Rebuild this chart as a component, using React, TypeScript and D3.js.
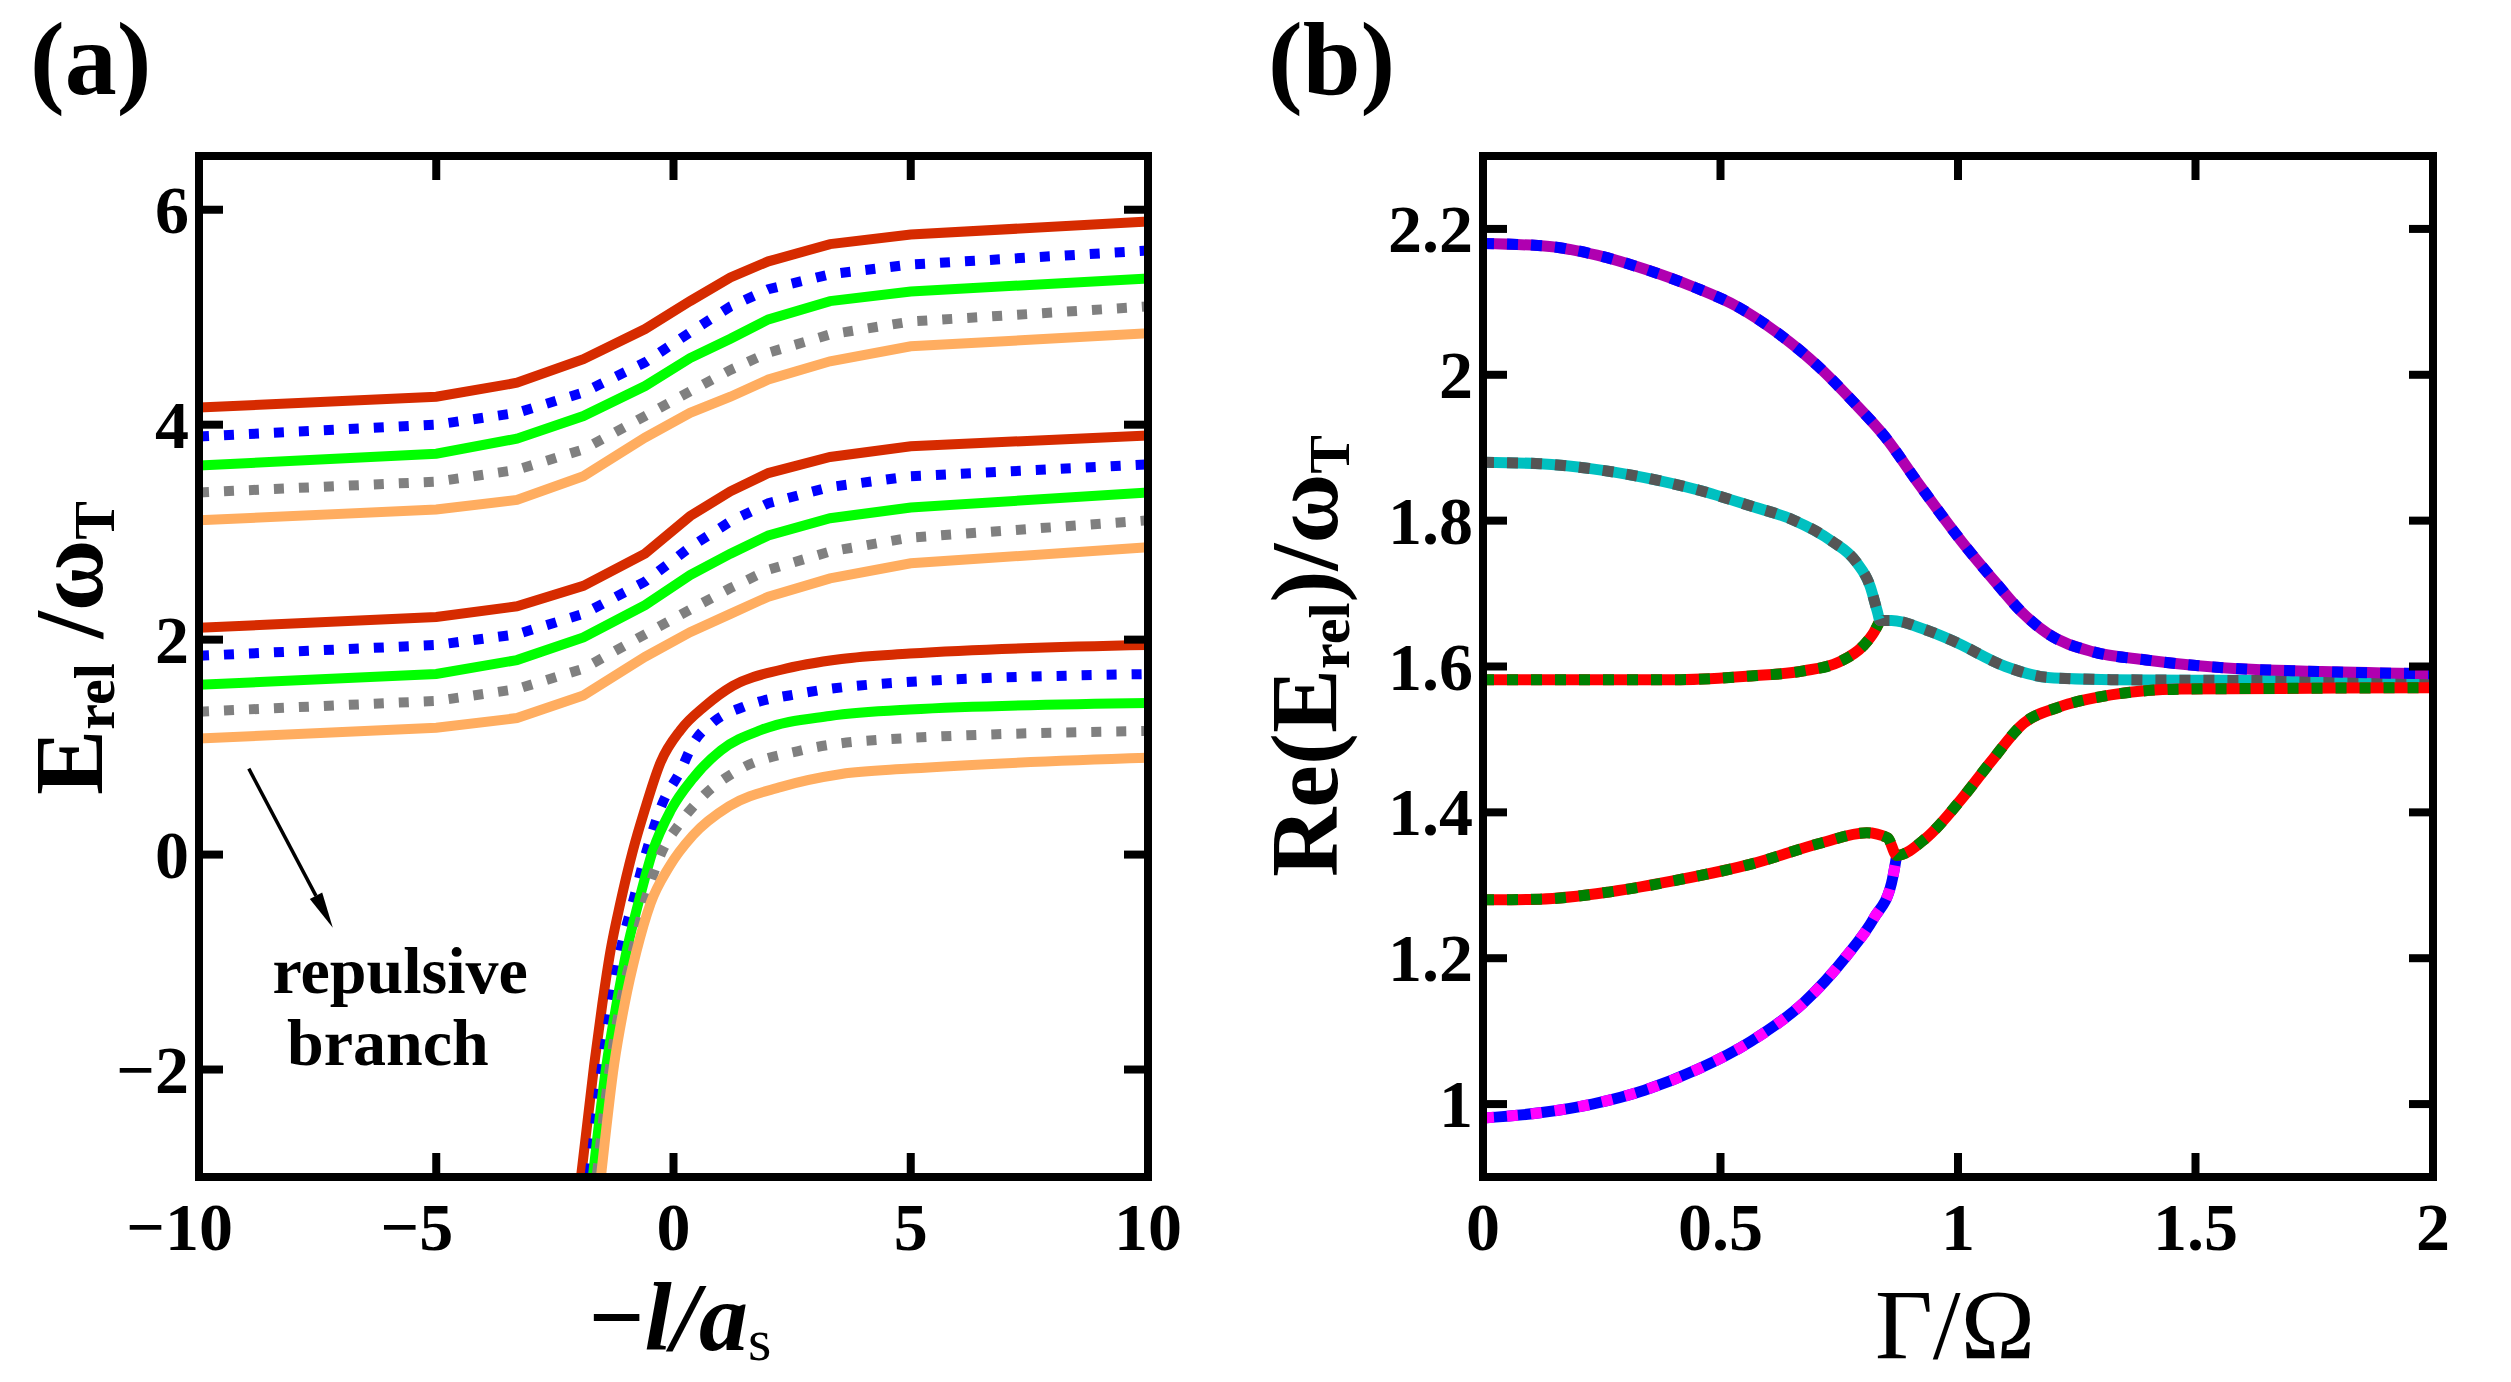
import React, { useEffect, useRef } from "react";
import * as d3 from "d3";

const W = 2511;
const H = 1382;
const FONT = "'Liberation Serif', 'Times New Roman', serif";

// ---- panel (a): relative energy vs -l/a_s, three families of five levels ----
const xsA = [-10, -5, -3.3, -1.9, -0.6, 0.35, 1.2, 2, 3.3, 5, 10];

const topRed = [4.16, 4.26, 4.39, 4.61, 4.89, 5.15, 5.37, 5.52, 5.68, 5.77, 5.89];
const topBlue = [3.89, 4.0, 4.11, 4.3, 4.58, 4.86, 5.1, 5.26, 5.4, 5.49, 5.62];
const topGreen = [3.62, 3.73, 3.87, 4.08, 4.36, 4.62, 4.8, 4.98, 5.15, 5.24, 5.36];
const topGray = [3.37, 3.47, 3.58, 3.77, 4.08, 4.31, 4.51, 4.67, 4.84, 4.96, 5.1];
const topOrange = [3.11, 3.21, 3.3, 3.52, 3.88, 4.11, 4.26, 4.42, 4.59, 4.73, 4.85];

const midRed = [2.11, 2.21, 2.31, 2.5, 2.8, 3.15, 3.38, 3.55, 3.7, 3.8, 3.9];
const midBlue = [1.85, 1.95, 2.05, 2.24, 2.54, 2.86, 3.1, 3.27, 3.42, 3.52, 3.63];
const midGreen = [1.58, 1.68, 1.81, 2.02, 2.32, 2.6, 2.8, 2.97, 3.13, 3.23, 3.37];
const midGray = [1.33, 1.43, 1.54, 1.73, 2.05, 2.28, 2.48, 2.65, 2.82, 2.95, 3.11];
const midOrange = [1.08, 1.18, 1.27, 1.48, 1.84, 2.07, 2.24, 2.4, 2.57, 2.71, 2.86];

// lowest family, each level on its own grid (steep drop near -2)
const lowRed: [number, number][] = [
  [-2.0, -3.2], [-1.96, -3.04], [-1.67, -1.95], [-1.5, -1.39], [-1.33, -0.9],
  [-1.12, -0.45], [-0.86, 0.03], [-0.61, 0.41], [-0.27, 0.86], [0.15, 1.16],
  [0.66, 1.38], [1.25, 1.57], [2.27, 1.72], [3.54, 1.82], [4.98, 1.87], [10, 1.95],
];
const lowBlue: [number, number][] = [
  [-1.82, -3.2], [-1.78, -3.04], [-1.5, -1.95], [-1.31, -1.39], [-1.12, -0.9],
  [-0.86, -0.45], [-0.57, 0.03], [-0.23, 0.48], [0.15, 0.78], [0.41, 1.03],
  [0.83, 1.23], [1.51, 1.38], [2.69, 1.5], [4.39, 1.59], [10, 1.68],
];
const lowGreen: [number, number][] = [
  [-1.75, -3.2], [-1.71, -3.04], [-1.41, -1.95], [-1.2, -1.39], [-0.99, -0.9],
  [-0.74, -0.45], [-0.44, 0.03], [-0.06, 0.41], [0.41, 0.71], [1.0, 0.97],
  [1.85, 1.16], [3.29, 1.29], [4.98, 1.35], [10, 1.41],
];
const lowGray: [number, number][] = [
  [-1.67, -3.2], [-1.63, -3.04], [-1.33, -1.95], [-1.12, -1.39], [-0.86, -0.9],
  [-0.61, -0.45], [-0.27, 0.0], [0.15, 0.3], [0.66, 0.56], [1.34, 0.78],
  [2.69, 0.97], [4.39, 1.07], [10, 1.15],
];
const lowOrange: [number, number][] = [
  [-1.58, -3.2], [-1.54, -3.04], [-1.25, -1.95], [-1.03, -1.39], [-0.78, -0.9],
  [-0.48, -0.45], [-0.1, -0.12], [0.41, 0.18], [1.17, 0.45], [2.27, 0.63],
  [3.54, 0.75], [4.98, 0.8], [10, 0.9],
];

const xTicksA = [-10, -5, 0, 5, 10];
const yTicksA = [-2, 0, 2, 4, 6];

// ---- panel (b): Re(E_rel) vs Gamma/Omega ----
const branchTop: [number, number][] = [
  [0, 2.18], [0.14, 2.176], [0.24, 2.164], [0.34, 2.145], [0.445, 2.12],
  [0.534, 2.094], [0.623, 2.056], [0.705, 2.012], [0.778, 1.964], [0.845, 1.916],
  [0.919, 1.849], [1.007, 1.772], [1.081, 1.714], [1.132, 1.676], [1.189, 1.645],
  [1.285, 1.62], [1.396, 1.609], [1.544, 1.599], [1.766, 1.593], [2.0, 1.59],
];
const branchUpper: [number, number][] = [
  [0, 1.88], [0.12, 1.878], [0.23, 1.871], [0.34, 1.859], [0.453, 1.842],
  [0.564, 1.82], [0.653, 1.801], [0.734, 1.772], [0.786, 1.743], [0.815, 1.71],
  [0.83, 1.676], [0.836, 1.663], [0.86, 1.663], [0.933, 1.65], [0.99, 1.635],
  [1.1, 1.6], [1.189, 1.585], [1.322, 1.582], [1.544, 1.581], [2.0, 1.58],
];
const branchMiddle: [number, number][] = [
  [0, 1.582], [0.194, 1.582], [0.416, 1.582], [0.564, 1.587], [0.675, 1.594],
  [0.749, 1.606], [0.8, 1.628], [0.823, 1.647], [0.836, 1.663],
];
const branchLower: [number, number][] = [
  [0, 1.28], [0.12, 1.281], [0.268, 1.291], [0.416, 1.308], [0.564, 1.329],
  [0.712, 1.358], [0.808, 1.372], [0.852, 1.365], [0.871, 1.341], [0.933, 1.365],
  [1.007, 1.418], [1.07, 1.47], [1.138, 1.522], [1.211, 1.544], [1.322, 1.561],
  [1.47, 1.569], [1.69, 1.57], [2.0, 1.571],
];
const branchBottom: [number, number][] = [
  [0, 0.981], [0.12, 0.988], [0.23, 1.0], [0.34, 1.019], [0.453, 1.048],
  [0.564, 1.086], [0.675, 1.139], [0.764, 1.202], [0.823, 1.255], [0.86, 1.303],
  [0.871, 1.341],
];

const xTicksB = [0, 0.5, 1, 1.5, 2];
const yTicksB = [1, 1.2, 1.4, 1.6, 1.8, 2, 2.2];

// plot boxes (pixels)
const boxA = { left: 199, right: 1148, top: 156, bottom: 1177 };
const boxB = { left: 1483, right: 2433, top: 156, bottom: 1177 };
const TICK_FS = 68;
const TICK_LEN = 24;

const drawFrame = (svg, box, x, y, xTicks, yTicks) => {
  const g = svg.append("g");
  // inward ticks on all four sides
  xTicks.forEach((v) => {
    [box.bottom, box.top].forEach((yy, i) => {
      g.append("line")
        .attr("x1", x(v)).attr("x2", x(v))
        .attr("y1", yy).attr("y2", i === 0 ? yy - TICK_LEN : yy + TICK_LEN)
        .attr("stroke", "#000").attr("stroke-width", 8);
    });
  });
  yTicks.forEach((v) => {
    [box.left, box.right].forEach((xx, i) => {
      g.append("line")
        .attr("y1", y(v)).attr("y2", y(v))
        .attr("x1", xx).attr("x2", i === 0 ? xx + TICK_LEN : xx - TICK_LEN)
        .attr("stroke", "#000").attr("stroke-width", 8);
    });
  });
  g.append("rect")
    .attr("x", box.left).attr("y", box.top)
    .attr("width", box.right - box.left).attr("height", box.bottom - box.top)
    .attr("fill", "none").attr("stroke", "#000").attr("stroke-width", 8);

  const fmt = (v) => (v < 0 ? "\u2212" + String(-v) : String(v));
  yTicks.forEach((v) => {
    g.append("text")
      .attr("x", box.left - 10).attr("y", y(v)).attr("dy", "0.34em")
      .attr("text-anchor", "end")
      .attr("font-family", FONT).attr("font-weight", "bold").attr("font-size", TICK_FS)
      .text(fmt(v));
  });
  xTicks.forEach((v) => {
    const label = fmt(v);
    const neg = label.startsWith("\u2212");
    const t = g.append("text")
      .attr("x", x(v)).attr("y", 1250)
      .attr("text-anchor", "middle")
      .attr("font-family", FONT).attr("font-weight", "bold").attr("font-size", TICK_FS)
      .text(neg ? label.slice(1) : label);
    if (neg) {
      const w = t.node().getComputedTextLength();
      g.append("text")
        .attr("x", x(v) - w / 2).attr("y", 1250)
        .attr("text-anchor", "end")
        .attr("font-family", FONT).attr("font-weight", "bold").attr("font-size", TICK_FS)
        .text("\u2212");
    }
  });
};

const drawLeft = (svg) => {
  const x = d3.scaleLinear().domain([-10, 10]).range([boxA.left, boxA.right]);
  const y = d3.scaleLinear().domain([-3, 6.5]).range([boxA.bottom, boxA.top]);

  svg.append("clipPath").attr("id", "clipA")
    .append("rect")
    .attr("x", boxA.left).attr("y", boxA.top)
    .attr("width", boxA.right - boxA.left).attr("height", boxA.bottom - boxA.top);

  const line = d3.line().x((d) => x(d[0])).y((d) => y(d[1]));
  const smooth = d3.line().x((d) => x(d[0])).y((d) => y(d[1])).curve(d3.curveMonotoneX);

  const styles = [
    { color: "#d62b00", dash: null },
    { color: "#0000ff", dash: "10 15" },
    { color: "#00ff00", dash: null },
    { color: "#808080", dash: "10 15" },
    { color: "#ffad60", dash: null },
  ];
  const families = [
    [topRed, topBlue, topGreen, topGray, topOrange].map((ys) => ys.map((v, i) => [xsA[i], v])),
    [midRed, midBlue, midGreen, midGray, midOrange].map((ys) => ys.map((v, i) => [xsA[i], v])),
  ];
  const lows = [lowRed, lowBlue, lowGreen, lowGray, lowOrange];

  const plot = svg.append("g").attr("clip-path", "url(#clipA)");
  families.forEach((fam) => {
    fam.forEach((pts, k) => {
      plot.append("path")
        .datum(pts)
        .attr("fill", "none")
        .attr("stroke", styles[k].color)
        .attr("stroke-width", 10)
        .attr("stroke-dasharray", styles[k].dash)
        .attr("d", line);
    });
  });
  lows.forEach((pts, k) => {
    plot.append("path")
      .datum(pts)
      .attr("fill", "none")
      .attr("stroke", styles[k].color)
      .attr("stroke-width", 10)
      .attr("stroke-dasharray", styles[k].dash)
      .attr("d", smooth);
  });

  // annotation arrow pointing into the repulsive branch
  const x0 = x(-8.95), y0 = y(0.8), x1 = x(-7.18), y1 = y(-0.68);
  const ang = Math.atan2(y1 - y0, x1 - x0);
  const headLen = 36, headHalf = 7;
  const bx = x1 - headLen * Math.cos(ang), by = y1 - headLen * Math.sin(ang);
  svg.append("line")
    .attr("x1", x0).attr("y1", y0).attr("x2", bx).attr("y2", by)
    .attr("stroke", "#000").attr("stroke-width", 3.5);
  svg.append("polygon")
    .attr("points", [
      [x1, y1],
      [bx + headHalf * Math.sin(ang), by - headHalf * Math.cos(ang)],
      [bx - headHalf * Math.sin(ang), by + headHalf * Math.cos(ang)],
    ].map((p) => p.join(",")).join(" "))
    .attr("fill", "#000");

  svg.append("text")
    .attr("x", x(-5.76)).attr("y", y(-1.29))
    .attr("text-anchor", "middle")
    .attr("font-family", FONT).attr("font-weight", "bold").attr("font-size", 66)
    .text("repulsive");
  svg.append("text")
    .attr("x", x(-6.02)).attr("y", y(-1.96))
    .attr("text-anchor", "middle")
    .attr("font-family", FONT).attr("font-weight", "bold").attr("font-size", 66)
    .text("branch");

  drawFrame(svg, boxA, x, y, xTicksA, yTicksA);

  // axis titles
  const yt = svg.append("text")
    .attr("transform", "translate(102,648) rotate(-90)")
    .attr("text-anchor", "middle")
    .attr("font-family", FONT).attr("font-weight", "bold").attr("font-size", 98);
  yt.append("tspan").text("E");
  yt.append("tspan").attr("font-size", 58).attr("dy", 12).text("rel");
  yt.append("tspan").attr("dy", -12).text(" /\u03c9");
  yt.append("tspan").attr("font-size", 58).attr("dy", 12).text("T");

  const xt = svg.append("text")
    .attr("x", 680).attr("y", 1350)
    .attr("text-anchor", "middle")
    .attr("font-family", FONT).attr("font-weight", "bold").attr("font-size", 98);
  xt.append("tspan").text("\u2212");
  xt.append("tspan").attr("font-style", "italic").text("l/a");
  xt.append("tspan").attr("font-size", 60).attr("font-weight", "normal").attr("dy", 10).text("s");

  svg.append("text")
    .attr("x", 30).attr("y", 94)
    .attr("font-family", FONT).attr("font-weight", "bold").attr("font-size", 104)
    .text("(a)");
};

const drawRight = (svg) => {
  const x = d3.scaleLinear().domain([0, 2]).range([boxB.left, boxB.right]);
  const y = d3.scaleLinear().domain([0.9, 2.3]).range([boxB.bottom, boxB.top]);

  svg.append("clipPath").attr("id", "clipB")
    .append("rect")
    .attr("x", boxB.left).attr("y", boxB.top)
    .attr("width", boxB.right - boxB.left).attr("height", boxB.bottom - boxB.top);

  const line = d3.line().x((d) => x(d[0])).y((d) => y(d[1])).curve(d3.curveMonotoneX);

  // each eigenvalue: a solid base with a dotted overlay of a second colour
  const branches = [
    { pts: branchMiddle, base: "#ff0000", dots: "#008000" },
    { pts: branchUpper, base: "#00c0c0", dots: "#555555" },
    { pts: branchBottom, base: "#0000ff", dots: "#ff00ff" },
    { pts: branchLower, base: "#ff0000", dots: "#008000" },
    { pts: branchTop, base: "#b000b0", dots: "#0000ff" },
  ];

  const plot = svg.append("g").attr("clip-path", "url(#clipB)");
  branches.forEach((b) => {
    plot.append("path")
      .datum(b.pts)
      .attr("fill", "none").attr("stroke", b.base).attr("stroke-width", 11)
      .attr("d", line);
    plot.append("path")
      .datum(b.pts)
      .attr("fill", "none").attr("stroke", b.dots).attr("stroke-width", 11)
      .attr("stroke-dasharray", "11 13")
      .attr("d", line);
  });

  drawFrame(svg, boxB, x, y, xTicksB, yTicksB);

  const yt = svg.append("text")
    .attr("transform", "translate(1337,656) rotate(-90)")
    .attr("text-anchor", "middle")
    .attr("font-family", FONT).attr("font-weight", "bold").attr("font-size", 96);
  yt.append("tspan").text("Re(E");
  yt.append("tspan").attr("font-size", 58).attr("dy", 12).text("rel");
  yt.append("tspan").attr("dy", -12).text(")/\u03c9");
  yt.append("tspan").attr("font-size", 58).attr("dy", 12).text("T");

  svg.append("text")
    .attr("x", 1955).attr("y", 1358)
    .attr("text-anchor", "middle")
    .attr("font-family", FONT).attr("font-size", 100)
    .text("\u0393/\u03a9");

  svg.append("text")
    .attr("x", 1268).attr("y", 94)
    .attr("font-family", FONT).attr("font-weight", "bold").attr("font-size", 104)
    .text("(b)");
};

const App = () => {
  const ref = useRef(null);

  useEffect(() => {
    const svg = d3.select(ref.current);
    svg.selectAll("*").remove();
    drawLeft(svg);
    drawRight(svg);
  }, []);

  return (
    <svg
      ref={ref}
      width={W}
      height={H}
      style={{ position: "absolute", left: 0, top: 0, background: "#fff" }}
    ></svg>
  );
};

export default App;
